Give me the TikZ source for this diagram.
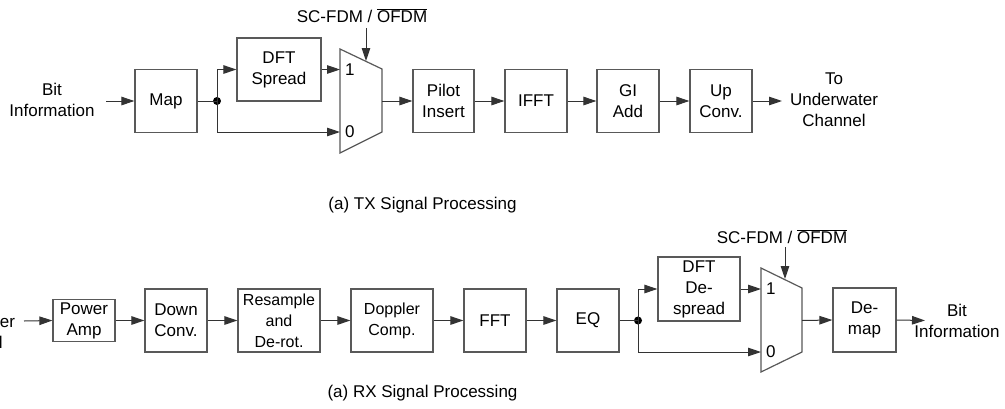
\documentclass[tikz,border=0pt]{standalone}
\usepackage{fontspec}
\setmainfont{Liberation Sans}
\usetikzlibrary{arrows.meta}
\tikzset{
  blk/.style={draw=black!65, line width=1.2pt, fill=white, align=center, inner sep=0pt,
              font=\fontsize{17}{21}\selectfont},
  lbl/.style={align=center, inner sep=0pt, font=\fontsize{17}{21}\selectfont},
  conn/.style={draw=black!80, line width=1pt},
  arr/.style={conn, -{Triangle[length=13pt,width=8.5pt]}},
  muxs/.style={draw=black!65, line width=1.2pt},
  jdot/.style={circle, fill=black, inner sep=0pt, minimum size=8pt},
}
\begin{document}
\begin{tikzpicture}[x=1pt,y=-1pt]
\clip (0,0) rectangle (1005,408);
\fill[white] (0,0) rectangle (1005,408);

% ---------------- TX ----------------
\node[lbl] (txin) at (52,100) {Bit\\Information};
\coordinate (txinA) at (106,101);
\node[blk, minimum width=62pt, minimum height=63pt] (map) at (166,101) {Map};
\node[jdot] (txdot) at (217,101) {};
\node[blk, minimum width=84pt, minimum height=63pt] (dft) at (279,69.5) {DFT\\Spread};
% mux
\coordinate (tm1) at (340,49);
\coordinate (tm2) at (382,69);
\coordinate (tm3) at (382,132);
\coordinate (tm4) at (340,153);
\draw[muxs] (tm1) -- (tm2) -- (tm3) -- (tm4) -- cycle;
\coordinate (tmin1) at (340,69.5);
\coordinate (tmin0) at (340,132);
\coordinate (tmout) at (382,101);
\node[lbl, anchor=west] (tone) at (345,69.5) {1};
\node[lbl, anchor=west] (tzero) at (345,132) {0};
\node[lbl] (tctl) at (362,16) {SC-FDM / $\overline{\mbox{OFDM}}$};
\coordinate (tctlA) at (366,28);
\coordinate (tctlB) at (366,61);
\node[blk, minimum width=61pt, minimum height=63pt] (pilot) at (443.5,101) {Pilot\\Insert};
\node[blk, minimum width=62pt, minimum height=63pt] (ifft) at (536,101) {IFFT};
\node[blk, minimum width=62pt, minimum height=63pt] (gi) at (628,101) {GI\\Add};
\node[blk, minimum width=62pt, minimum height=63pt] (up) at (721,101) {Up\\Conv.};
\coordinate (txoutA) at (782,101);
\node[lbl] (txout) at (834,100) {To\\Underwater\\Channel};

\draw[arr] (txinA) -- (map.west);
\draw[conn] (map.east) -- (txdot.center);
\draw[arr] (txdot.center) |- (dft.west);
\draw[arr] (txdot.center) |- (tmin0);
\draw[arr] (dft.east) -- (tmin1);
\draw[arr] (tctlA) -- (tctlB);
\draw[arr] (tmout) -- (pilot.west);
\draw[arr] (pilot.east) -- (ifft.west);
\draw[arr] (ifft.east) -- (gi.west);
\draw[arr] (gi.east) -- (up.west);
\draw[arr] (up.east) -- (txoutA);

\node[lbl] (txcap) at (422.5,205) {(a) TX Signal Processing};

% ---------------- RX ----------------
\node[lbl] (rxin) at (-29,331.5) {Underwater\\Channel};
\coordinate (rxinA) at (24,321);
\node[blk, minimum width=62pt, minimum height=42pt] (pa) at (84,320.5) {Power\\Amp};
\node[blk, minimum width=62pt, minimum height=63pt] (down) at (176,320.5) {Down\\Conv.};
\node[blk, minimum width=82pt, minimum height=63pt, font=\fontsize{16}{21}\selectfont] (res) at (279,320.5) {Resample\\and\\De-rot.};
\node[blk, minimum width=82pt, minimum height=63pt, font=\fontsize{16}{21}\selectfont] (dop) at (392,320.5) {Doppler\\Comp.};
\node[blk, minimum width=62pt, minimum height=63pt] (fft) at (495,320.5) {FFT};
\node[blk, minimum width=62pt, minimum height=63pt] (eq) at (588,320.5) {EQ};
\node[jdot] (rxdot) at (638,320.5) {};
\node[blk, minimum width=82pt, minimum height=64pt] (dds) at (699,289) {DFT\\De-\\spread};
\coordinate (rm1) at (761,268);
\coordinate (rm2) at (802,288);
\coordinate (rm3) at (802,352);
\coordinate (rm4) at (761,372);
\draw[muxs] (rm1) -- (rm2) -- (rm3) -- (rm4) -- cycle;
\coordinate (rmin1) at (761,289);
\coordinate (rmin0) at (761,352);
\coordinate (rmout) at (802,320.5);
\node[lbl, anchor=west] (rone) at (766,289) {1};
\node[lbl, anchor=west] (rzero) at (766,352) {0};
\node[lbl] (rctl) at (782,237) {SC-FDM / $\overline{\mbox{OFDM}}$};
\coordinate (rctlA) at (785,247);
\coordinate (rctlB) at (785,279);
\node[blk, minimum width=63pt, minimum height=64pt] (demap) at (864.5,320) {De-\\map};
\coordinate (rxoutA) at (925,320.5);
\node[lbl] (rxout) at (957,320.5) {Bit\\Information};

\draw[arr] (rxinA) -- (pa.west);
\draw[arr] (pa.east) -- (down.west);
\draw[arr] (down.east) -- (res.west);
\draw[arr] (res.east) -- (dop.west);
\draw[arr] (dop.east) -- (fft.west);
\draw[arr] (fft.east) -- (eq.west);
\draw[conn] (eq.east) -- (rxdot.center);
\draw[arr] (rxdot.center) |- (dds.west);
\draw[arr] (rxdot.center) |- (rmin0);
\draw[arr] (dds.east) -- (rmin1);
\draw[arr] (rctlA) -- (rctlB);
\draw[arr] (rmout) -- (demap.west);
\draw[arr] (demap.east) -- (rxoutA);

\node[lbl] (rxcap) at (422.5,393) {(a) RX Signal Processing};
\end{tikzpicture}
\end{document}
